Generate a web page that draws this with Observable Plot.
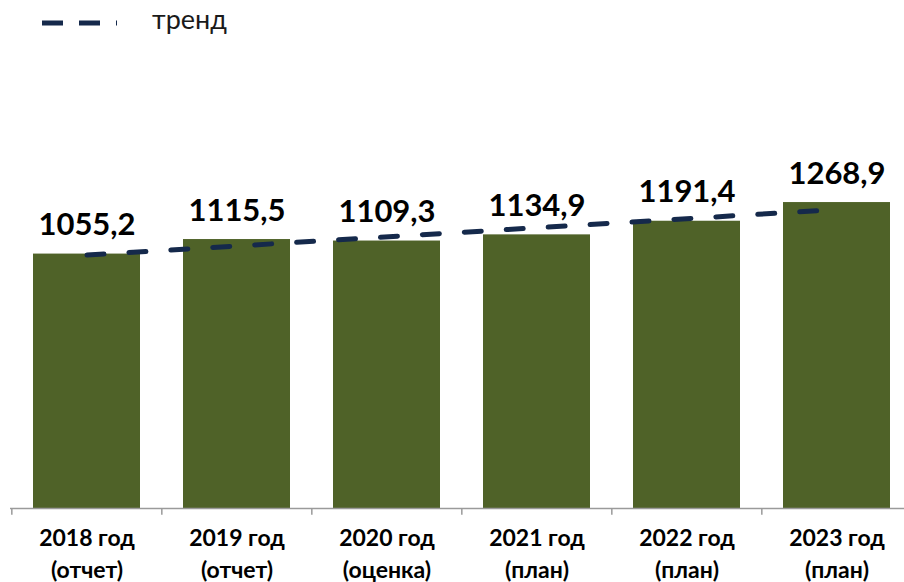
<!DOCTYPE html>
<html><head><meta charset="utf-8">
<script src="https://cdn.jsdelivr.net/npm/d3@7"></script>
<script src="https://cdn.jsdelivr.net/npm/@observablehq/plot@0.6"></script>
<style>
html,body{margin:0;padding:0;background:#fff;overflow:hidden}
body{width:904px;height:582px;font-family:Lato,"Open Sans",sans-serif}
#legend{display:block}
#chart svg{display:block}
</style></head><body>
<svg id="legend" width="904" height="40">
  <line x1="42" x2="117" y1="23" y2="23" stroke="#15294b" stroke-width="5" stroke-dasharray="21,16"/>
  <text x="152" y="29" font-family="Lato" font-size="27" fill="#1a1a1a">тренд</text>
</svg>
<div id="chart"></div>
<script>
const years = ["2018 год","2019 год","2020 год","2021 год","2022 год","2023 год"];
const notes = ["(отчет)","(отчет)","(оценка)","(план)","(план)","(план)"];
const values = [1055.2, 1115.5, 1109.3, 1134.9, 1191.4, 1268.9];
const trendYears = ["2018 год","2023 год"];
const trendValues = [1051, 1240];

const data = years.map((y, i) => ({year: y, note: notes[i], value: values[i], label: values[i].toFixed(1).replace(".", ",")}));
const trend = trendYears.map((y, i) => ({year: y, value: trendValues[i]}));

const chart = Plot.plot({
  width: 904, height: 542,
  marginLeft: 10, marginRight: -8, marginTop: 34, marginBottom: 74,
  style: {fontFamily: "Lato, sans-serif", background: "#fff", overflow: "visible"},
  x: {domain: years, paddingInner: 0.288, paddingOuter: 0.144, axis: null},
  y: {domain: [0, 1800], axis: null},
  marks: [
    Plot.barY(data, {x: "year", y: "value", fill: "#4F6228"}),
    Plot.ruleY([0], {stroke: "#9a9a9a", strokeWidth: 1.5}),
    Plot.ruleX(data, {x: "year", dx: -75.17, y1: 0, y2: -28, stroke: "#9a9a9a", strokeWidth: 1.5}),
    Plot.line(trend, {x: "year", y: "value", stroke: "#15294b", strokeWidth: 5, strokeDasharray: "17,25", strokeLinecap: "round"}),
    Plot.text(data, {x: "year", y: "value", text: "label", dy: -19, lineAnchor: "bottom", fontSize: 31, fontWeight: "bold", fill: "#000"}),
    Plot.text(data, {x: "year", y: 0, text: d => d.year + "\n" + d.note, lineAnchor: "top", dy: 15, lineHeight: 1.39, fontSize: 23, fontWeight: "bold", fill: "#000"})
  ]
});
document.getElementById("chart").appendChild(chart);
</script>
</body></html>
